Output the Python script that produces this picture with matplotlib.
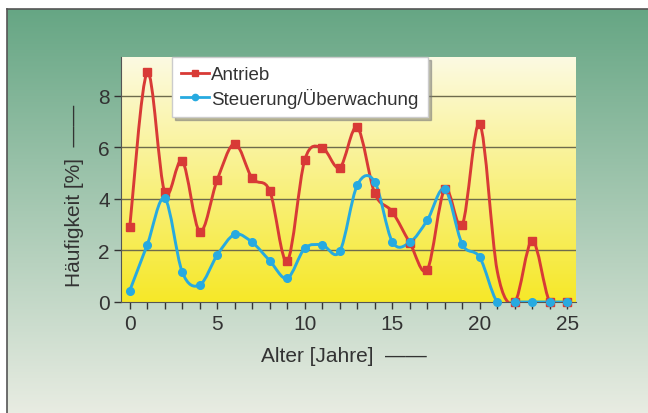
import numpy as np
import matplotlib
matplotlib.use("Agg")
import matplotlib.pyplot as plt
from matplotlib.path import Path
from matplotlib.patches import PathPatch
from matplotlib.lines import Line2D
from matplotlib.ticker import MultipleLocator

plt.rcParams['font.family'] = ['Liberation Sans', 'DejaVu Sans']

# Alter in Jahren
alter = list(range(26))
# Häufigkeit [%]
antrieb = [2.9, 8.9, 4.25, 5.47, 2.73, 4.74, 6.14, 4.79, 4.31, 1.59,
           5.51, 5.98, 5.21, 6.77, 4.21, 3.5, 2.3, 1.25, 4.38, 3.0,
           6.9, 1.2, 0.0, 2.38, 0.0, 0.0]
steuerung = [0.44, 2.22, 4.02, 1.16, 0.66, 1.82, 2.62, 2.31, 1.6, 0.92,
             2.08, 2.21, 1.96, 4.53, 4.66, 2.34, 2.31, 3.17, 4.38, 2.24,
             1.73, 0.0, 0.0, 0.0, 0.0, 0.0]
labels = ['Antrieb', 'Steuerung/Überwachung']

rot = '#d83a36'
blau = '#27aae0'


def smooth_path(x, y):
    # Bezier-Kurve durch alle Punkte (wie "geglättete Linie")
    p = np.column_stack([x, y]).astype(float)
    n = len(p)
    verts = [p[0]]
    codes = [Path.MOVETO]
    for i in range(n - 1):
        p0 = p[i - 1] if i > 0 else p[i]
        p3 = p[i + 2] if i + 2 < n else p[i + 1]
        c1 = p[i] + (p[i + 1] - p0) / 6
        c2 = p[i + 1] - (p3 - p[i]) / 6
        verts += [c1, c2, p[i + 1]]
        codes += [Path.CURVE4] * 3
    return Path(verts, codes)


fig = plt.figure(figsize=(6.48, 4.14), dpi=100)

# Hintergrund (grün -> hell)
bg = fig.add_axes([7 / 648, 0, 1 - 7 / 648, 1 - 10 / 414], zorder=-10)
top = np.array([102, 166, 132]) / 255
bot = np.array([232, 236, 226]) / 255
t = np.linspace(0, 1, 256)[:, None]
grad = top + (bot - top) * t
bg.imshow(grad[:, None, :], aspect='auto', extent=[0, 1, 0, 1])
bg.set_xticks([])
bg.set_yticks([])
for s in ['right', 'bottom']:
    bg.spines[s].set_visible(False)
for s in ['left', 'top']:
    bg.spines[s].set_color('#555555')
    bg.spines[s].set_linewidth(1.2)

ax = fig.add_axes([121 / 648, 1 - 303 / 414, 455 / 648, 245 / 414])
ax.set_facecolor('none')
ytop = np.array([252, 250, 226]) / 255
ybot = np.array([246, 232, 40]) / 255
g2 = ytop + (ybot - ytop) * t
ax.imshow(g2[:, None, :], aspect='auto', extent=[0, 1, 0, 1],
          transform=ax.transAxes, zorder=0)

ax.set_xlim(-0.5, 25.5)
ax.set_ylim(0, 9.5)

for yy in [2, 4, 6, 8]:
    ax.axhline(yy, color='#6e6b4c', lw=1.0, zorder=1)

# Antrieb: bei 21 Jahren kein Marker sichtbar
marks = [[i for i in range(26) if i != 21], list(range(26))]
for y, c, m, me in [(antrieb, rot, 's', marks[0]), (steuerung, blau, 'o', marks[1])]:
    ax.add_patch(PathPatch(smooth_path(alter, y), fill=False, edgecolor=c,
                           lw=2.1, zorder=3, capstyle='round', joinstyle='round'))
    ax.plot(alter, y, ls='none', marker=m, color=c, ms=5.5, zorder=4,
            markevery=me, clip_on=False)

ax.xaxis.set_major_locator(MultipleLocator(5))
ax.xaxis.set_minor_locator(MultipleLocator(1))
ax.set_yticks([0, 2, 4, 6, 8])
ax.tick_params(axis='both', which='both', direction='out', length=5,
               width=1, color='#333333', labelsize=15, labelcolor='#333333')
ax.tick_params(axis='x', pad=4)
ax.tick_params(axis='y', pad=3)
for s in ['top', 'right']:
    ax.spines[s].set_visible(False)
for s in ['left', 'bottom']:
    ax.spines[s].set_color('#555555')
    ax.spines[s].set_linewidth(0.8)

handles = [Line2D([], [], color=rot, lw=2.0, marker='s', ms=4.5),
           Line2D([], [], color=blau, lw=2.0, marker='o', ms=4.5)]
leg = ax.legend(handles, labels, loc='upper left', bbox_to_anchor=(0.112, 1.0),
                fontsize=13.5, frameon=True, fancybox=False, shadow={'color': '#777777'},
                handlelength=1.5, handletextpad=0.1, borderpad=0.5,
                labelspacing=0.22, borderaxespad=0)
leg.get_frame().set_facecolor('white')
leg.get_frame().set_edgecolor('#cccccc')
leg.get_frame().set_alpha(1)
for txt in leg.get_texts():
    txt.set_color('#333333')
leg.set_zorder(5)

fig.text(74 / 648, 1 - 196 / 414, 'Häufigkeit [%]  ——', rotation=90,
         ha='center', va='center', fontsize=15, color='#333333')
fig.text(344 / 648, 1 - 356 / 414, 'Alter [Jahre]  ——',
         ha='center', va='center', fontsize=15, color='#333333')

fig.savefig('out.png', dpi=100)
